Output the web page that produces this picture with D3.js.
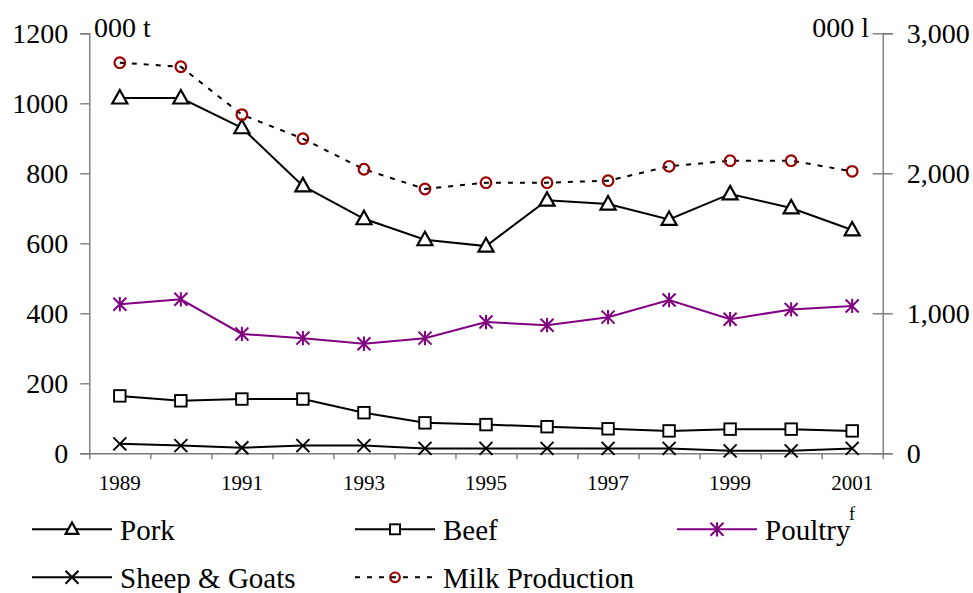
<!DOCTYPE html>
<html>
<head>
<meta charset="utf-8">
<script src="https://cdn.jsdelivr.net/npm/d3@7/dist/d3.min.js"></script>
<style>
  html, body { margin: 0; padding: 0; background: #fff; }
  svg { display: block; }
  svg text { font-family: 'Liberation Serif', 'Times New Roman', Times, serif; }
</style>
</head>
<body>
<svg id="chart" width="973" height="593"></svg>
<script>
// ---- data ----
const years = [1989, 1990, 1991, 1992, 1993, 1994, 1995, 1996, 1997, 1998, 1999, 2000, 2001];
const pork = [1015, 1015, 930, 764, 670, 610, 592, 723, 712, 668, 741, 701, 638];
const beef = [164, 150, 155, 155, 116, 87, 82, 76, 70, 64, 69, 69, 64];
const poultry = [426, 440, 341, 329, 313, 329, 375, 366, 389, 438, 383, 411, 421];
const sheepGoats = [27, 22, 16, 22, 22, 14, 14, 14, 14, 14, 7, 7, 14];
const milkProduction = [2790, 2761, 2419, 2247, 2029, 1888, 1933, 1933, 1947, 2050, 2090, 2090, 2014];
const leftTicks = [0, 200, 400, 600, 800, 1000, 1200];
const rightTicks = [0, 1000, 2000, 3000];
const xLabelYears = [1989, 1991, 1993, 1995, 1997, 1999, 2001];
const leftUnit = "000 t";
const rightUnit = "000 l";

// ---- layout ----
const FONT = "'Liberation Serif', 'Times New Roman', Times, serif";
const svg = d3.select("#chart");
const x0 = 89.3, x1 = 882.7, yTop = 33.3, yBot = 453.3;

const x = d3.scaleBand().domain(years).range([x0, x1]).padding(0);
const xEdge = d3.scaleLinear().domain([0, years.length]).range([x0, x1]);
const yL = d3.scaleLinear().domain([0, 1200]).range([yBot, yTop]);
const yR = d3.scaleLinear().domain([0, 3000]).range([yBot, yTop]);
const cx = d => x(d) + x.bandwidth() / 2;

const axisColor = "#7a7a7a";

function styleAxis(g, fontSize) {
  g.attr("font-family", FONT);
  g.selectAll(".domain").attr("stroke", axisColor).attr("stroke-width", 1.4);
  g.selectAll(".tick line").attr("stroke", axisColor).attr("stroke-width", 1.4);
  g.selectAll(".tick text").attr("fill", "#000")
    .attr("font-size", fontSize);
}

// left axis
const gL = svg.append("g").attr("transform", `translate(${x0},0)`)
  .call(d3.axisLeft(yL).tickValues(leftTicks).tickSize(9).tickPadding(12).tickFormat(d3.format("d")));
styleAxis(gL, 28);
gL.selectAll(".tick text").attr("dy", "0.34em");

// right axis
const gR = svg.append("g").attr("transform", `translate(${x1},0)`)
  .call(d3.axisRight(yR).tickValues(rightTicks).tickSize(10).tickPadding(14).tickFormat(d3.format(",")));
styleAxis(gR, 28);
gR.selectAll(".tick text").attr("dy", "0.34em");
const gR2 = svg.append("g").attr("transform", `translate(${x1},0)`)
  .call(d3.axisLeft(yR).tickValues(rightTicks).tickSize(10).tickFormat(""));
styleAxis(gR2, 28);
gR2.select(".domain").remove();

// x axis: boundary ticks
const gX = svg.append("g").attr("transform", `translate(0,${yBot})`)
  .call(d3.axisBottom(xEdge).tickValues(d3.range(0, years.length + 1)).tickSize(6).tickSizeOuter(0).tickFormat(""));
styleAxis(gX, 21);
// x labels
const gXL = svg.append("g").attr("transform", `translate(0,${yBot})`)
  .call(d3.axisBottom(x).tickValues(xLabelYears).tickSize(0).tickPadding(22).tickFormat(d3.format("d")));
styleAxis(gXL, 21);
gXL.select(".domain").remove();

// unit labels
svg.append("text").attr("x", 94).attr("y", 37).attr("font-size", 28).text(leftUnit);
svg.append("text").attr("x", 869).attr("y", 37).attr("font-size", 28).attr("text-anchor", "end").text(rightUnit);

// ---- markers ----
function triangle(g, s) {
  g.append("path").attr("d", `M0,${-s*0.62}L${s*0.58},${s*0.42}L${-s*0.58},${s*0.42}Z`)
    .attr("fill", "#fff").attr("stroke", "#000").attr("stroke-width", 2.2);
}
function square(g, s) {
  g.append("rect").attr("x", -s/2).attr("y", -s/2).attr("width", s).attr("height", s)
    .attr("fill", "#fff").attr("stroke", "#000").attr("stroke-width", 1.9);
}
function cross(g, s, color) {
  const h = s / 2;
  g.append("path").attr("d", `M${-h},${-h}L${h},${h}M${-h},${h}L${h},${-h}`)
    .attr("stroke", color).attr("stroke-width", 2).attr("fill", "none");
}
function star(g, s, color) {
  const h = s / 2;
  g.append("path").attr("d", `M${-h},${-h}L${h},${h}M${-h},${h}L${h},${-h}M0,${-h*1.1}L0,${h*1.1}`)
    .attr("stroke", color).attr("stroke-width", 2).attr("fill", "none");
}
function ring(g, s, color) {
  g.append("circle").attr("r", s).attr("fill", "none").attr("stroke", color).attr("stroke-width", 2.2);
}

const milkColor = "#990000";
const poultryColor = "#800080";

const series = [
  { name: "Pork", values: pork, y: yL, color: "#000", dash: null, marker: g => triangle(g, 13) },
  { name: "Beef", values: beef, y: yL, color: "#000", dash: null, marker: g => square(g, 11.5) },
  { name: "Poultry", values: poultry, y: yL, color: poultryColor, dash: null, marker: g => star(g, 13, poultryColor) },
  { name: "Sheep & Goats", values: sheepGoats, y: yL, color: "#000", dash: null, marker: g => cross(g, 13, "#000") },
  { name: "Milk Production", values: milkProduction, y: yR, color: "#000", dash: "5,7", marker: g => ring(g, 5.3, milkColor) }
];

const line = (ys) => d3.line().x((d, i) => cx(years[i])).y(d => ys(d));

series.forEach(s => {
  svg.append("path").datum(s.values)
    .attr("d", line(s.y))
    .attr("fill", "none")
    .attr("stroke", s.color)
    .attr("stroke-width", 2)
    .attr("stroke-dasharray", s.dash);
});
series.forEach(s => {
  s.values.forEach((v, i) => {
    const g = svg.append("g").attr("transform", `translate(${cx(years[i])},${s.y(v)})`);
    s.marker(g);
  });
});

// ---- legend ----
const legendItems = [
  { s: series[0], lx: 32, ty: 529.3 },
  { s: series[1], lx: 355, ty: 529.3 },
  { s: series[2], lx: 677, ty: 529.3 },
  { s: series[3], lx: 32, ty: 577.3 },
  { s: series[4], lx: 355, ty: 577.3 }
];
legendItems.forEach(it => {
  const g = svg.append("g");
  g.append("line").attr("x1", it.lx).attr("x2", it.lx + 80).attr("y1", it.ty).attr("y2", it.ty)
    .attr("stroke", it.s.color).attr("stroke-width", 2).attr("stroke-dasharray", it.s.dash);
  const m = g.append("g").attr("transform", `translate(${it.lx + 40},${it.ty})`);
  if (it.s.name === "Pork") triangle(m, 11);
  else if (it.s.name === "Beef") square(m, 10);
  else if (it.s.name === "Milk Production") ring(m, 4.8, milkColor);
  else it.s.marker(m);
  g.append("text").attr("x", it.lx + 88).attr("y", it.ty + 11).attr("font-size", 29).text(it.s.name);
});
svg.append("text").attr("x", 849).attr("y", 520).attr("font-size", 18).text("f");

svg.selectAll("text").attr("font-family", FONT).style("font-family", FONT);
</script>
</body>
</html>
